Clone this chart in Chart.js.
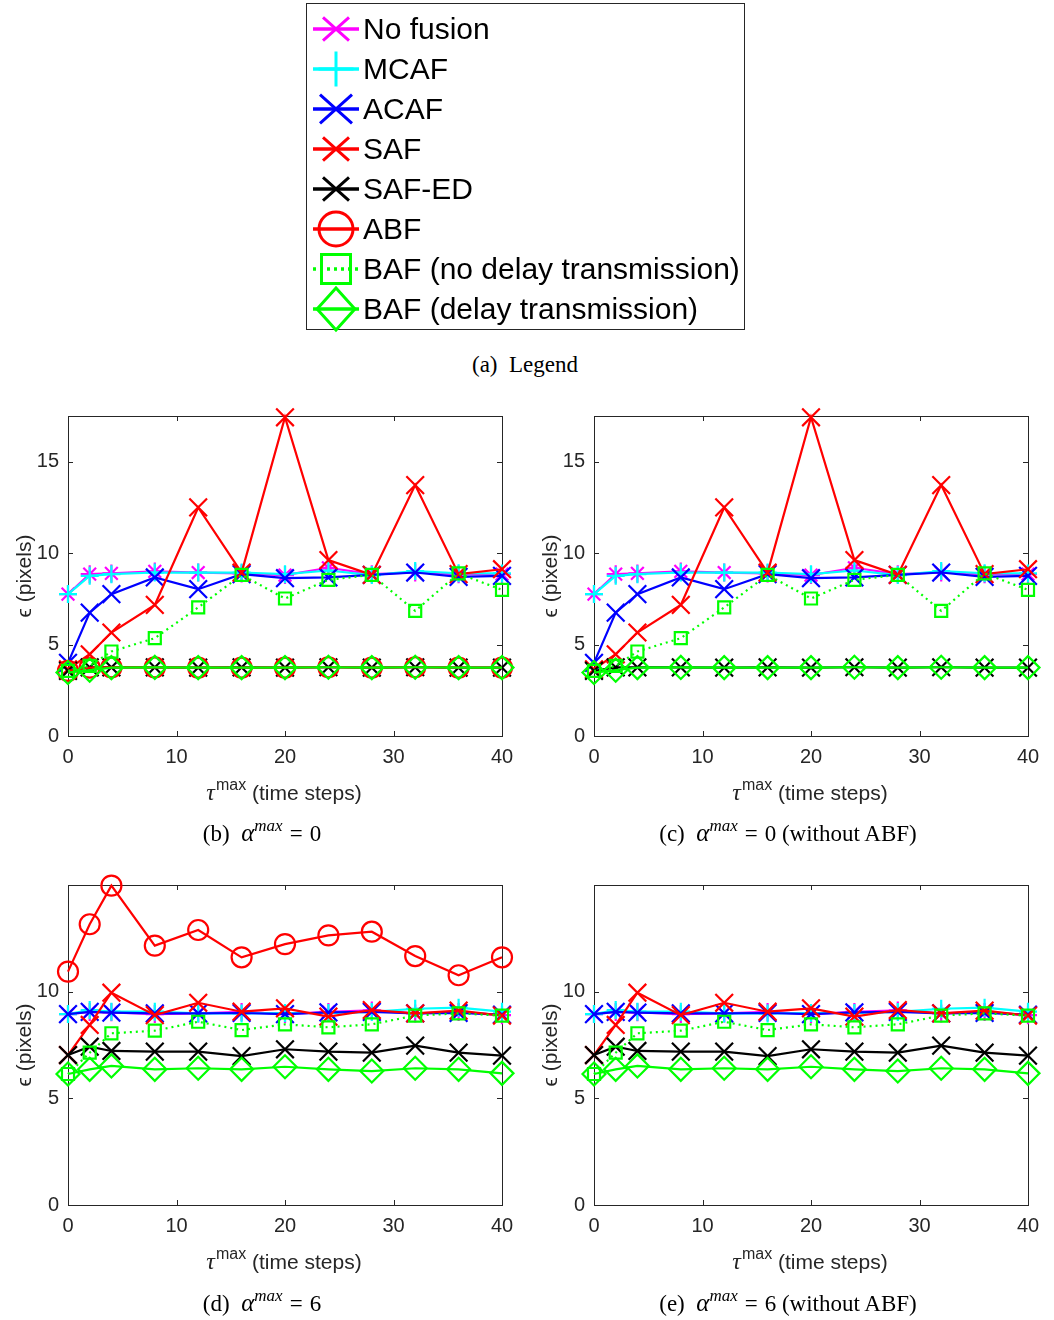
<!DOCTYPE html>
<html>
<head>
<meta charset="utf-8">
<title>Tracking error vs tau max</title>
<script src="https://cdn.jsdelivr.net/npm/chart.js@4.4.1/dist/chart.umd.min.js"></script>
<style>
  body { margin: 0; background: #fff; }
  #page { position: relative; width: 1054px; height: 1320px; overflow: hidden; background: #fff; }
  .panel { position: absolute; width: 520px; height: 380px; }
  .panel canvas { display: block; }
  .caption {
    position: absolute; transform: translateX(-50%); white-space: nowrap;
    font-family: "Liberation Serif", "Times New Roman", serif; font-size: 23px;
    line-height: 24px; color: #000;
  }
  .caption i { font-size: 25px; }
  .caption sup { font-size: 17px; font-style: italic; vertical-align: 10px; line-height: 0; }
  .caption .eq { margin: 0 7px; }
  .xtitle {
    position: absolute; transform: translateX(-50%); white-space: nowrap;
    font-family: "Liberation Sans", Arial, sans-serif; font-size: 21px;
    line-height: 24px; color: #262626;
  }
  .xtitle .tau { font-family: "Liberation Serif", serif; font-style: italic; font-size: 24px; }
  .xtitle sup { font-size: 16px; vertical-align: 10px; line-height: 0; margin-left: 1px; }
  #legend {
    position: absolute; left: 306px; top: 3px; width: 439px; height: 327px;
    box-sizing: border-box; border: 1px solid #262626; background: #fff;
  }
  .legend-row canvas { position: absolute; left: 3px; }
  .legend-row span {
    position: absolute; left: 56px; height: 40px; line-height: 40px; white-space: nowrap;
    font-family: "Liberation Sans", Arial, sans-serif; font-size: 30px; color: #000;
  }
</style>
</head>
<body>
<div id="page">
  <div id="legend"></div>
  <div class="caption" style="left:525px; top:353px;">(a)&ensp;Legend</div>

  <div class="panel" style="left:0px; top:400px;"><canvas id="chartB" width="520" height="380"></canvas></div>
  <div class="panel" style="left:526px; top:400px;"><canvas id="chartC" width="520" height="380"></canvas></div>
  <div class="panel" style="left:0px; top:869px;"><canvas id="chartD" width="520" height="380"></canvas></div>
  <div class="panel" style="left:526px; top:869px;"><canvas id="chartE" width="520" height="380"></canvas></div>

  <div class="xtitle" style="left:284px; top:780px;"><span class="tau">τ</span><sup>max</sup> (time steps)</div>
  <div class="xtitle" style="left:810px; top:780px;"><span class="tau">τ</span><sup>max</sup> (time steps)</div>
  <div class="xtitle" style="left:284px; top:1249px;"><span class="tau">τ</span><sup>max</sup> (time steps)</div>
  <div class="xtitle" style="left:810px; top:1249px;"><span class="tau">τ</span><sup>max</sup> (time steps)</div>

  <div class="caption" style="left:262px; top:821px;">(b)&ensp;<i>α</i><sup>max</sup><span class="eq">=</span>0</div>
  <div class="caption" style="left:788px; top:821px;">(c)&ensp;<i>α</i><sup>max</sup><span class="eq">=</span>0 (without ABF)</div>
  <div class="caption" style="left:262px; top:1291px;">(d)&ensp;<i>α</i><sup>max</sup><span class="eq">=</span>6</div>
  <div class="caption" style="left:788px; top:1291px;">(e)&ensp;<i>α</i><sup>max</sup><span class="eq">=</span>6 (without ABF)</div>
</div>

<script>
// x positions (tau max, time steps) and tick labels
const tauSteps = [0, 2, 4, 8, 12, 16, 20, 24, 28, 32, 36, 40];
const xTicks = [0, 10, 20, 30, 40];
const yTicksA0 = [0, 5, 10, 15];
const yTicksA6 = [0, 5, 10];

const methods = [
  "No fusion",
  "MCAF",
  "ACAF",
  "SAF",
  "SAF-ED",
  "ABF",
  "BAF (no delay transmission)",
  "BAF (delay transmission)",
];

// alpha max = 0
const noFusionA0 = [7.76, 8.85, 8.89, 9.0, 8.94, 8.89, 8.8, 9.2, 8.85, 8.94, 8.85, 8.85];
const mcafA0 = [7.76, 8.76, 8.85, 8.94, 8.94, 8.94, 8.85, 9.05, 8.8, 9.02, 8.9, 8.89];
const acafA0 = [4.0, 6.75, 7.76, 8.67, 8.03, 8.85, 8.63, 8.67, 8.81, 8.94, 8.7, 8.76];
const safA0 = [3.65, 4.47, 5.66, 7.17, 12.5, 8.94, 17.43, 9.62, 8.81, 13.72, 8.85, 9.12];
const safEdA0 = [3.56, 3.75, 3.75, 3.75, 3.74, 3.75, 3.74, 3.76, 3.74, 3.76, 3.74, 3.74];
const abfA0 = [3.56, 3.74, 3.75, 3.75, 3.74, 3.74, 3.74, 3.76, 3.74, 3.76, 3.74, 3.74];
const bafNoDelayA0 = [3.56, 3.83, 4.62, 5.35, 7.03, 8.81, 7.52, 8.54, 8.81, 6.84, 8.89, 7.99];
const bafDelayA0 = [3.47, 3.6, 3.74, 3.75, 3.74, 3.74, 3.74, 3.76, 3.74, 3.76, 3.74, 3.74];

// alpha max = 6
const noFusionA6 = [8.95, 9.05, 9.03, 8.95, 8.98, 9.05, 8.95, 9.05, 9.12, 8.98, 9.05, 8.9];
const mcafA6 = [8.95, 9.14, 9.06, 9.06, 8.98, 8.98, 9.0, 9.0, 9.05, 9.2, 9.25, 9.06];
const acafA6 = [8.95, 9.05, 9.02, 8.98, 8.98, 9.0, 8.95, 9.03, 9.05, 8.98, 9.0, 8.92];
const safA6 = [7.03, 8.44, 9.95, 8.9, 9.48, 9.06, 9.22, 8.83, 9.14, 8.98, 9.11, 8.88];
const safEdA6 = [7.03, 7.42, 7.22, 7.19, 7.19, 6.98, 7.3, 7.19, 7.14, 7.47, 7.14, 7.0];
const abfA6 = [10.94, 13.16, 14.97, 12.16, 12.89, 11.61, 12.23, 12.64, 12.81, 11.67, 10.77, 11.61];
const bafNoDelayA6 = [6.14, 7.14, 8.05, 8.17, 8.59, 8.2, 8.47, 8.33, 8.47, 8.88, 8.98, 8.88];
const bafDelayA6 = [6.14, 6.36, 6.52, 6.36, 6.41, 6.36, 6.48, 6.36, 6.28, 6.41, 6.36, 6.17];

// line / marker look per method (same order as methods)
const methodStyles = [
  { color: "#ff00ff", point: "star", r: 9, legendR: 13 },
  { color: "#00ffff", point: "cross", r: 9, legendR: 17.5 },
  { color: "#0000ff", point: "crossRot", r: 12.5, legendR: 16 },
  { color: "#ff0000", point: "crossRot", r: 12.5, legendR: 13 },
  { color: "#000000", point: "crossRot", r: 12.5, legendR: 13 },
  { color: "#ff0000", point: "circle", r: 10, legendR: 17 },
  { color: "#00ff00", point: "rect", r: 8.5, legendR: 14.5, dotted: true },
  { color: "#00ff00", point: "rectRot", r: 11.5, legendR: 21 },
];

const axisColor = "#262626";
const tickFont = { family: "'Liberation Sans', Arial, sans-serif", size: 20 };

// MATLAB-like box with inward ticks on all four sides
const boxPlugin = {
  id: "matlabBox",
  beforeDatasetsDraw(chart) {
    const { ctx, chartArea: a, scales } = chart;
    const tick = 5;
    ctx.save();
    ctx.strokeStyle = axisColor;
    ctx.lineWidth = 1;
    ctx.strokeRect(Math.round(a.left) + 0.5, Math.round(a.top) + 0.5,
      Math.round(a.right - a.left), Math.round(a.bottom - a.top));
    ctx.beginPath();
    scales.x.ticks.forEach((t) => {
      const px = Math.round(scales.x.getPixelForValue(t.value)) + 0.5;
      ctx.moveTo(px, a.bottom); ctx.lineTo(px, a.bottom - tick);
      ctx.moveTo(px, a.top); ctx.lineTo(px, a.top + tick);
    });
    scales.y.ticks.forEach((t) => {
      const py = Math.round(scales.y.getPixelForValue(t.value)) + 0.5;
      ctx.moveTo(a.left, py); ctx.lineTo(a.left + tick, py);
      ctx.moveTo(a.right, py); ctx.lineTo(a.right - tick, py);
    });
    ctx.stroke();
    ctx.restore();
  },
};

function makeDataset(methodIndex, values) {
  const st = methodStyles[methodIndex];
  return {
    label: methods[methodIndex],
    data: tauSteps.map((t, i) => ({ x: t, y: values[i] })),
    borderColor: st.color,
    backgroundColor: "transparent",
    borderWidth: 2.2,
    borderDash: st.dotted ? [2, 4] : [],
    pointStyle: st.point,
    pointRadius: st.r,
    pointBorderWidth: 2.2,
    pointBorderColor: st.color,
    pointBackgroundColor: "transparent",
    tension: 0,
    clip: false,
    // later methods sit on top, like the original plot order
    order: 10 - methodIndex,
  };
}

function makeChart(canvasId, series, yMax, yTicks) {
  new Chart(document.getElementById(canvasId), {
    type: "line",
    data: {
      datasets: series.map(([idx, values]) => makeDataset(idx, values)),
    },
    options: {
      responsive: false,
      animation: false,
      devicePixelRatio: 1,
      events: [],
      layout: { padding: { top: 16, right: 18, left: 0, bottom: 0 } },
      plugins: { legend: { display: false }, tooltip: { enabled: false } },
      scales: {
        x: {
          type: "linear",
          min: 0,
          max: 40,
          afterBuildTicks: (s) => { s.ticks = xTicks.map((v) => ({ value: v })); },
          afterFit: (s) => {
            s.height = 44;
            s.paddingLeft = 0;
            s.paddingRight = 0;
          },
          grid: { display: false, drawTicks: false },
          border: { display: false },
          ticks: { font: tickFont, color: axisColor, padding: 9, maxRotation: 0 },
        },
        y: {
          type: "linear",
          min: 0,
          max: yMax,
          afterBuildTicks: (s) => { s.ticks = yTicks.map((v) => ({ value: v })); },
          afterFit: (s) => {
            s.width = 68;
            s.paddingTop = 0;
            s.paddingBottom = 0;
          },
          grid: { display: false, drawTicks: false },
          border: { display: false },
          ticks: { font: tickFont, color: axisColor, padding: 9 },
          title: {
            display: true,
            text: "ϵ (pixels)",
            font: { family: "'Liberation Sans', Arial, sans-serif", size: 21 },
            color: axisColor,
            padding: { top: 13, bottom: 0 },
          },
        },
      },
    },
    plugins: [boxPlugin],
  });
}

makeChart("chartB", [
  [0, noFusionA0], [1, mcafA0], [2, acafA0], [3, safA0],
  [4, safEdA0], [5, abfA0], [6, bafNoDelayA0], [7, bafDelayA0],
], 17.5, yTicksA0);

makeChart("chartC", [
  [0, noFusionA0], [1, mcafA0], [2, acafA0], [3, safA0],
  [4, safEdA0], [6, bafNoDelayA0], [7, bafDelayA0],
], 17.5, yTicksA0);

makeChart("chartD", [
  [0, noFusionA6], [1, mcafA6], [2, acafA6], [3, safA6],
  [4, safEdA6], [5, abfA6], [6, bafNoDelayA6], [7, bafDelayA6],
], 15, yTicksA6);

makeChart("chartE", [
  [0, noFusionA6], [1, mcafA6], [2, acafA6], [3, safA6],
  [4, safEdA6], [6, bafNoDelayA6], [7, bafDelayA6],
], 15, yTicksA6);

// Legend (a): line sample + marker, then the label
function drawLegendSample(canvas, st) {
  const ctx = canvas.getContext("2d");
  const cx = 26, cy = canvas.height / 2, r = st.legendR;
  ctx.strokeStyle = st.color;
  ctx.lineWidth = 3.5;
  ctx.setLineDash(st.dotted ? [3, 4] : []);
  ctx.beginPath();
  ctx.moveTo(3, cy);
  ctx.lineTo(49, cy);
  ctx.stroke();
  ctx.setLineDash([]);
  ctx.lineWidth = 3;
  ctx.beginPath();
  if (st.point === "circle") {
    ctx.arc(cx, cy, r, 0, Math.PI * 2);
  } else if (st.point === "rect") {
    ctx.rect(cx - r, cy - r, 2 * r, 2 * r);
  } else if (st.point === "rectRot") {
    ctx.moveTo(cx, cy - r); ctx.lineTo(cx + r * 0.9, cy);
    ctx.lineTo(cx, cy + r); ctx.lineTo(cx - r * 0.9, cy);
    ctx.closePath();
  } else if (st.point === "cross") {
    ctx.moveTo(cx, cy - r); ctx.lineTo(cx, cy + r);
    ctx.moveTo(cx - r, cy); ctx.lineTo(cx + r, cy);
  } else {
    ctx.moveTo(cx - r, cy - r * 0.9); ctx.lineTo(cx + r, cy + r * 0.9);
    ctx.moveTo(cx - r, cy + r * 0.9); ctx.lineTo(cx + r, cy - r * 0.9);
  }
  ctx.stroke();
}

const legendBox = document.getElementById("legend");
methods.forEach((name, i) => {
  const row = document.createElement("div");
  row.className = "legend-row";
  const c = document.createElement("canvas");
  c.width = 54;
  c.height = 48;
  c.style.top = (0.5 + 40 * i) + "px";
  const label = document.createElement("span");
  label.textContent = name;
  label.style.top = (4.5 + 40 * i) + "px";
  row.appendChild(c);
  row.appendChild(label);
  legendBox.appendChild(row);
  drawLegendSample(c, methodStyles[i]);
});
</script>
</body>
</html>
